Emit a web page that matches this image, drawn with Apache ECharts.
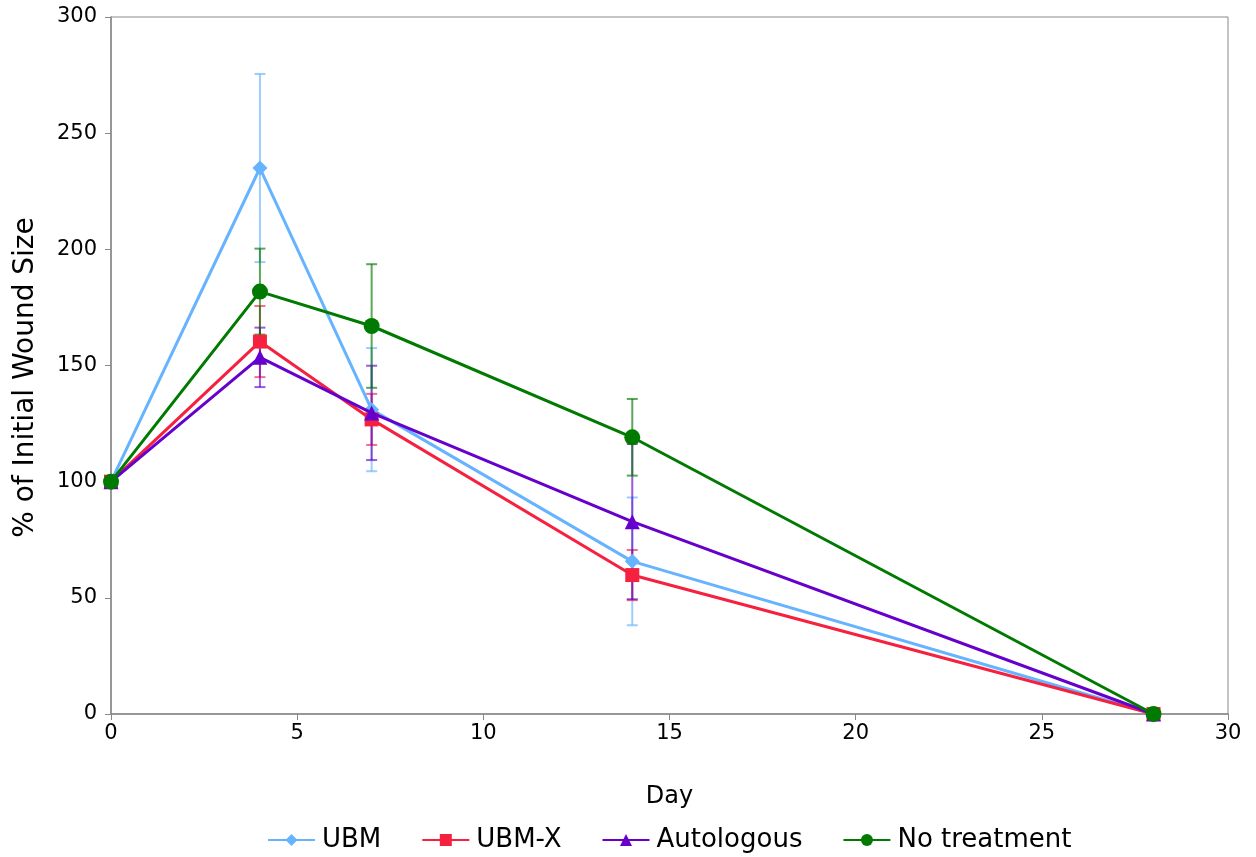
<!DOCTYPE html>
<html>
<head>
<meta charset="utf-8">
<script src="https://cdn.jsdelivr.net/npm/echarts@6/dist/echarts.min.js"></script>
<style>html,body{margin:0;padding:0;background:#fff}#c{width:1256px;height:857px}</style>
</head>
<body>
<div id="c"></div>
<script>
const days = [0, 4, 7, 14, 28];
const ubm = [100, 235, 131, 65.7, 0];
const ubmErr = [0, 40.5, 26.5, 27.5, 0];
const ubmx = [100, 160.3, 126.8, 59.8, 0];
const ubmxErr = [0, 15.3, 11, 10.8, 0];
const autologous = [100, 153.5, 129.6, 82.8, 0];
const autologousErr = [0, 12.8, 20.3, 33.4, 0];
const noTreatment = [100, 181.8, 167, 119.1, 0];
const noTreatmentErr = [0, 18.5, 26.6, 16.5, 0];
const xTicks = [0, 5, 10, 15, 20, 25, 30];
const yTicks = [0, 50, 100, 150, 200, 250, 300];

const FONT = 'DejaVu Sans';
const seriesDefs = [
  {name: 'UBM', vals: ubm, err: ubmErr, color: '#66B3FF', symbol: 'diamond', size: 15},
  {name: 'UBM-X', vals: ubmx, err: ubmxErr, color: '#F5213F', symbol: 'rect', size: 14},
  {name: 'Autologous', vals: autologous, err: autologousErr, color: '#6600CC', symbol: 'triangle', size: 15},
  {name: 'No treatment', vals: noTreatment, err: noTreatmentErr, color: '#007A00', symbol: 'circle', size: 16}
];

const series = [];
seriesDefs.forEach((s, i) => {
  series.push({
    type: 'custom',
    name: s.name + ' err',
    z: 1,
    silent: true,
    data: days.map((d, k) => [d, s.vals[k], s.err[k]]),
    renderItem: function (params, api) {
      const x = api.value(0), v = api.value(1), e = api.value(2);
      if (!e) return null;
      const top = api.coord([x, v + e]);
      const bot = api.coord([x, v - e]);
      const hw = 5.5;
      const st = {stroke: s.color, lineWidth: 2, opacity: 0.65};
      return {
        type: 'group',
        children: [
          {type: 'line', shape: {x1: top[0], y1: top[1], x2: bot[0], y2: bot[1]}, style: st},
          {type: 'line', shape: {x1: top[0] - hw, y1: top[1], x2: top[0] + hw, y2: top[1]}, style: st},
          {type: 'line', shape: {x1: bot[0] - hw, y1: bot[1], x2: bot[0] + hw, y2: bot[1]}, style: st}
        ]
      };
    }
  });
});
seriesDefs.forEach((s, i) => {
  series.push({
    type: 'line',
    name: s.name,
    z: 3 + i,
    data: days.map((d, k) => [d, s.vals[k]]),
    symbol: s.symbol,
    symbolSize: s.size,
    showAllSymbol: true,
    lineStyle: {color: s.color, width: 3},
    itemStyle: {color: s.color, borderWidth: 0}
  });
});

const chart = echarts.init(document.getElementById('c'), null, {renderer: 'canvas'});
chart.setOption({
  animation: false,
  backgroundColor: '#fff',
  grid: {left: 111, right: 28, top: 17, bottom: 143, show: true, borderColor: '#888', borderWidth: 1, containLabel: false},
  legend: {
    data: seriesDefs.map(s => s.name),
    top: 822,
    left: 262,
    itemWidth: 47,
    itemHeight: 15,
    itemGap: 40,
    textStyle: {fontFamily: FONT, fontSize: 26, color: '#000', padding: [0, 0, 0, 2]}
  },
  xAxis: {
    type: 'value', min: xTicks[0], max: xTicks[xTicks.length - 1], interval: 5,
    name: 'Day', nameLocation: 'middle', nameGap: 71,
    nameTextStyle: {fontFamily: FONT, fontSize: 24, color: '#000'},
    axisLine: {show: true, lineStyle: {color: '#888', width: 1.5}},
    axisTick: {show: true, inside: false, length: 6, lineStyle: {color: '#888'}},
    axisLabel: {fontFamily: FONT, fontSize: 21, color: '#000', margin: 9},
    splitLine: {show: false}
  },
  yAxis: {
    type: 'value', min: yTicks[0], max: yTicks[yTicks.length - 1], interval: 50,
    name: '% of Initial Wound Size', nameLocation: 'middle', nameGap: 71, nameRotate: 90,
    nameTextStyle: {fontFamily: FONT, fontSize: 28, color: '#000', padding: [0, 24, 0, 0]},
    axisLine: {show: true, lineStyle: {color: '#888', width: 1.5}},
    axisTick: {show: true, inside: false, length: 6, lineStyle: {color: '#888'}},
    axisLabel: {fontFamily: FONT, fontSize: 21, color: '#000', margin: 14},
    splitLine: {show: false}
  },
  series: series
});
</script>
</body>
</html>
